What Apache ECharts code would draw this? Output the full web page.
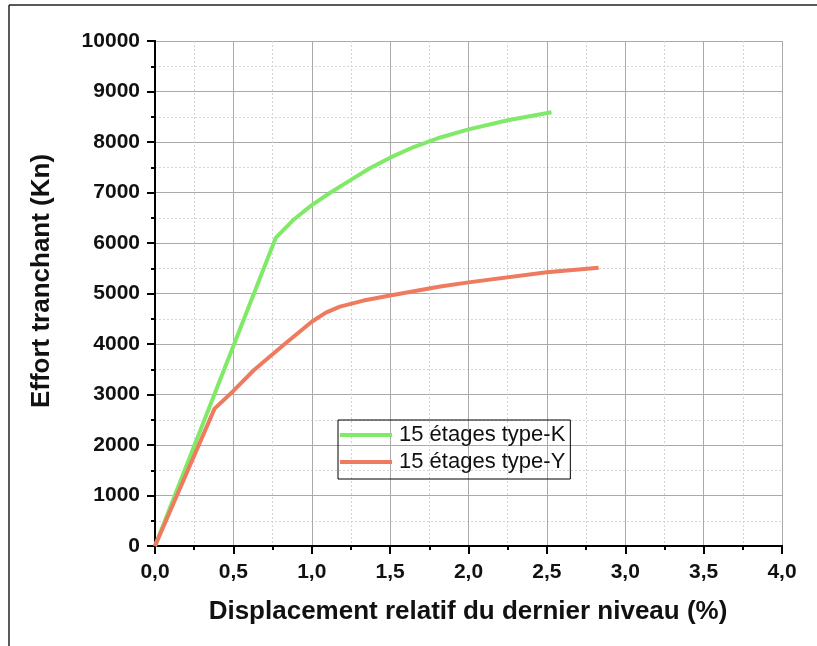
<!DOCTYPE html>
<html><head><meta charset="utf-8">
<script src="https://cdn.jsdelivr.net/npm/echarts@6/dist/echarts.min.js"></script>
<style>html,body{margin:0;padding:0;background:#fff}#c{width:817px;height:646px}</style>
</head><body><div id="c"></div>
<script>
var seriesNames = ['15 étages type-K', '15 étages type-Y'];
var dataK = [[0,0],[0.77,6100],[0.88,6450],[1.0,6750],[1.12,7000],[1.25,7250],[1.37,7480],[1.5,7690],[1.65,7900],[1.82,8090],[2.0,8250],[2.25,8430],[2.53,8590]];
var dataY = [[0,0],[0.38,2720],[0.5,3070],[0.63,3480],[0.82,3980],[1.0,4440],[1.09,4620],[1.18,4740],[1.33,4860],[1.5,4960],[1.82,5140],[2.0,5220],[2.5,5420],[2.83,5510]];
var xTitle = 'Displacement relatif du dernier niveau (%)';
var yTitle = 'Effort tranchant (Kn)';
var colors = ['#80ea68', '#ee7b5f'];

var chart = echarts.init(document.getElementById('c'));
var lblFont = {fontFamily:'Liberation Sans, Arial, sans-serif', fontWeight:'bold', fontSize:21, color:'#111'};
function mkAxis(isX){
  return {
    type:'value', min:0, max: isX?4:10000, interval: isX?0.5:1000,
    axisLine:{show:true, onZero:false, lineStyle:{color:'#000', width:2}},
    axisTick:{show:true, inside:false, length:8, lineStyle:{color:'#000', width:2}},
    minorTick:{show:true, splitNumber:2, length:4, lineStyle:{color:'#000', width:2}},
    splitLine:{show:true, lineStyle:{color:'#aaa', width:1}},
    minorSplitLine:{show:true, lineStyle:{color:'#d4d4d4', width:1, type:[2,2]}},
    axisLabel: Object.assign({margin: isX?16:15, formatter: isX ? function(v){return v.toFixed(1).replace('.',',');} : function(v){return String(v);}}, lblFont)
  };
}
var xA = mkAxis(true), yA = mkAxis(false);
var xTop = {type:'value', position:'top', min:0, max:4, axisLine:{show:true, lineStyle:{color:'#000', width:2}}, axisTick:{show:false}, axisLabel:{show:false}, splitLine:{show:false}};
var yRight = {type:'value', position:'right', min:0, max:10000, axisLine:{show:true, lineStyle:{color:'#000', width:2}}, axisTick:{show:false}, axisLabel:{show:false}, splitLine:{show:false}};

chart.setOption({
  animation:false,
  backgroundColor:'#fff',
  grid:{left:155, top:41, width:627, height:505},
  xAxis:[xA, xTop],
  yAxis:[yA, yRight],
  legend:{
    orient:'vertical', left:338, top:420,
    data:seriesNames, icon:'rect', itemWidth:52, itemHeight:4, itemGap:5,
    borderColor:'#000', borderWidth:1, padding:[4,5,6,2],
    textStyle:{fontFamily:'Liberation Sans, Arial, sans-serif', fontSize:22, color:'#111', padding:[0,0,0,2]}
  },
  graphic:[
    {type:'line', shape:{x1:9, y1:5, x2:817, y2:5}, style:{stroke:'#222', lineWidth:1.5}},
    {type:'line', shape:{x1:9, y1:5, x2:9, y2:646}, style:{stroke:'#222', lineWidth:1.5}},
    {type:'text', x:468, y:612, style:{text:xTitle, font:'bold 26px "Liberation Sans", Arial, sans-serif', fill:'#111', align:'center', verticalAlign:'middle'}},
    {type:'text', x:42, y:281, rotation:Math.PI/2, style:{text:yTitle, font:'bold 26px "Liberation Sans", Arial, sans-serif', fill:'#111', align:'center', verticalAlign:'middle'}}
  ],
  series:[
    {name:seriesNames[0], type:'line', data:dataK, showSymbol:false, symbol:'none', lineStyle:{width:4, color:colors[0]}, itemStyle:{color:colors[0]}, z:3},
    {name:seriesNames[1], type:'line', data:dataY, showSymbol:false, symbol:'none', lineStyle:{width:4, color:colors[1]}, itemStyle:{color:colors[1]}, z:3}
  ]
});
</script></body></html>
